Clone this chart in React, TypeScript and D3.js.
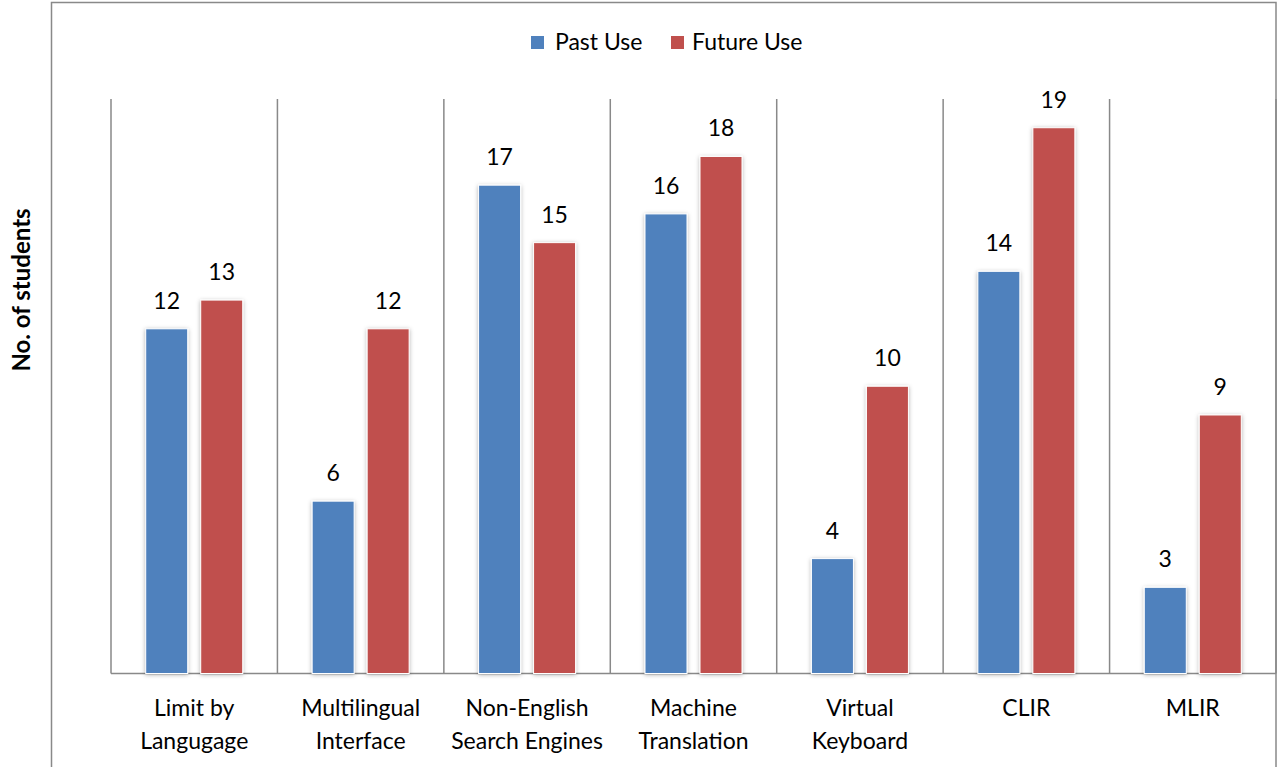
import React from "react";
import * as d3 from "d3";

const categories = [
  ["Limit by", "Langugage"],
  ["Multilingual", "Interface"],
  ["Non-English", "Search Engines"],
  ["Machine", "Translation"],
  ["Virtual", "Keyboard"],
  ["CLIR"],
  ["MLIR"],
];
const seriesNames = ["Past Use", "Future Use"];
const pastUse = [12, 6, 17, 16, 4, 14, 3];
const futureUse = [13, 12, 15, 18, 10, 19, 9];
const colors = ["#4F81BD", "#C0504D"];

const W = 1280;
const H = 767;
const FONT = "Lato, 'Open Sans', 'Liberation Sans', sans-serif";

export default function App() {
  const left = 111;
  const right = 1276;
  const top = 99;
  const base = 673.5;

  const idx = categories.map((_, i) => i);
  const x = d3.scaleBand<number>().domain(idx).range([left, right]).paddingInner(0).paddingOuter(0);
  const y = d3.scaleLinear().domain([0, 20]).range([base, top]);
  const bw = x.bandwidth();
  const barW = 42;
  const gap = 13;
  const groupW = barW * 2 + gap;
  const series = [pastUse, futureUse];

  const boundaries = idx.map((i) => x(i)!).concat([right]);

  return (
    <svg width={W} height={H} style={{ position: "absolute", left: 0, top: 0 }} fontFamily={FONT}>
      <defs>
        <filter id="sh" x="-30%" y="-10%" width="160%" height="120%">
          <feDropShadow dx="0" dy="1" stdDeviation="2" floodColor="#000" floodOpacity="0.3" />
        </filter>
      </defs>
      <rect x={0} y={0} width={W} height={H} fill="#fff" />
      <rect x={51.5} y={2.5} width={1224.5} height={H + 10} fill="none" stroke="#898989" strokeWidth={1.5} />

      {/* gridlines */}
      {boundaries.map((bx, i) => (
        <line key={i} x1={bx} x2={bx} y1={top} y2={base} stroke="#898989" strokeWidth={1.5} />
      ))}
      <line x1={left} x2={right} y1={base} y2={base} stroke="#898989" strokeWidth={1.5} />

      {/* bars */}
      {series.map((vals, s) =>
        vals.map((v, i) => {
          const bx = x(i)! + (bw - groupW) / 2 + s * (barW + gap);
          return (
            <g key={`${s}-${i}`}>
              <rect
                x={bx}
                y={y(v)}
                width={barW}
                height={base - y(v)}
                fill={colors[s]}
                stroke="#fff"
                strokeWidth={1}
                filter="url(#sh)"
              />
              <text x={bx + barW / 2} y={y(v) - 20} textAnchor="middle" fontSize={23} fill="#000">
                {v}
              </text>
            </g>
          );
        })
      )}

      {/* category labels */}
      {categories.map((lines, i) => (
        <text key={i} x={x(i)! + bw / 2} textAnchor="middle" fontSize={23} fill="#000">
          {lines.map((l, j) => (
            <tspan key={j} x={x(i)! + bw / 2} y={716 + j * 33}>
              {l}
            </tspan>
          ))}
        </text>
      ))}

      {/* y axis title */}
      <text
        transform="translate(30,290) rotate(-90)"
        textAnchor="middle"
        fontSize={24}
        fontWeight="bold"
        fill="#000"
      >
        No. of students
      </text>

      {/* legend */}
      {[
        { sx: 531, tx: 555 },
        { sx: 671, tx: 692 },
      ].map((p, s) => (
        <g key={s}>
          <rect x={p.sx} y={36} width={13} height={13} fill={colors[s]} />
          <text x={p.tx} y={50} fontSize={23} fill="#000">
            {seriesNames[s]}
          </text>
        </g>
      ))}
    </svg>
  );
}
